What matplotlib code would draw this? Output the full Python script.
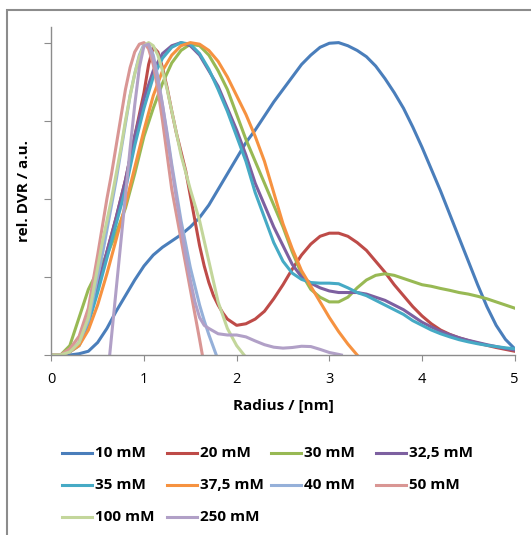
import numpy as np
import matplotlib
matplotlib.use("Agg")
import matplotlib.pyplot as plt
from matplotlib.lines import Line2D
from matplotlib.patches import Rectangle

plt.rcParams['font.family'] = ['Open Sans', 'DejaVu Sans']

# Radius grid / nm
radius = np.round(np.arange(0, 5.01, 0.1), 1)

labels = ["10 mM", "20 mM", "30 mM", "32,5 mM", "35 mM",
          "37,5 mM", "40 mM", "50 mM", "100 mM", "250 mM"]
colors = ["#4a7ebb", "#be4b48", "#98b954", "#7d60a0", "#46aac5",
          "#f69240", "#95b0d9", "#d99694", "#c3d69b", "#b1a0c7"]

dvr_10 = [0, 0, 0.0, 0.004, 0.012, 0.04, 0.085, 0.14, 0.19, 0.24,
          0.285, 0.32, 0.345, 0.365, 0.385, 0.41, 0.44, 0.48, 0.53, 0.58,
          0.63, 0.68, 0.72, 0.765, 0.81, 0.85, 0.89, 0.93, 0.96, 0.985,
          0.998, 1.0, 0.99, 0.975, 0.955, 0.925, 0.885, 0.84, 0.79, 0.73,
          0.665, 0.595, 0.525, 0.45, 0.375, 0.30, 0.225, 0.155, 0.095, 0.05, 0.02]

r_20 = [0.0, 0.1, 0.2, 0.3, 0.4, 0.5, 0.6, 0.7, 0.8, 0.85, 0.9, 0.95, 1.0,
        1.05, 1.1, 1.15, 1.2, 1.25, 1.3, 1.35, 1.4, 1.45, 1.5, 1.55, 1.6,
        1.65, 1.7, 1.75, 1.8, 1.85, 1.9] + list(radius[20:])
dvr_20 = [0, 0, 0.01, 0.04, 0.11, 0.22, 0.33, 0.44, 0.56, 0.63, 0.70, 0.77, 0.84,
          0.93, 0.985, 0.97, 0.92, 0.855, 0.78, 0.71, 0.65, 0.59, 0.51, 0.43, 0.35,
          0.285, 0.232, 0.19, 0.16, 0.135, 0.115,
          0.095, 0.10, 0.115, 0.14, 0.18, 0.225, 0.275, 0.32, 0.355, 0.38,
          0.39, 0.39, 0.38, 0.36, 0.335, 0.30, 0.265, 0.225, 0.19, 0.155,
          0.125, 0.10, 0.08, 0.066, 0.055, 0.046, 0.038, 0.031, 0.024, 0.018, 0.012]

dvr_30 = [0, 0.0, 0.03, 0.12, 0.21, 0.27, 0.32, 0.39, 0.47, 0.58,
          0.70, 0.79, 0.87, 0.935, 0.975, 0.995, 0.99, 0.96, 0.91, 0.85,
          0.77, 0.69, 0.62, 0.55, 0.48, 0.41, 0.33, 0.26, 0.21, 0.185,
          0.17, 0.17, 0.185, 0.215, 0.24, 0.255, 0.26, 0.255, 0.245, 0.235,
          0.225, 0.22, 0.213, 0.207, 0.20, 0.195, 0.188, 0.18, 0.17, 0.16, 0.15]
dvr_325 = [0, 0, 0.01, 0.04, 0.12, 0.22, 0.33, 0.44, 0.56, 0.70,
           0.82, 0.91, 0.965, 0.99, 1.0, 0.99, 0.96, 0.91, 0.86, 0.79,
           0.72, 0.64, 0.55, 0.48, 0.41, 0.35, 0.29, 0.25, 0.23, 0.215,
           0.205, 0.20, 0.20, 0.20, 0.195, 0.185, 0.175, 0.16, 0.145, 0.125,
           0.105, 0.09, 0.076, 0.065, 0.055, 0.047, 0.04, 0.033, 0.027, 0.021, 0.016]
dvr_35 = [0, 0, 0.01, 0.03, 0.10, 0.20, 0.31, 0.42, 0.53, 0.67,
          0.79, 0.89, 0.95, 0.985, 1.0, 0.995, 0.965, 0.915, 0.85, 0.78,
          0.70, 0.62, 0.52, 0.44, 0.36, 0.30, 0.262, 0.242, 0.232, 0.23,
          0.23, 0.228, 0.215, 0.20, 0.19, 0.175, 0.16, 0.145, 0.13, 0.11,
          0.095, 0.08, 0.068, 0.058, 0.049, 0.042, 0.036, 0.031, 0.027, 0.023, 0.02]
dvr_375 = [0, 0, 0.01, 0.03, 0.08, 0.16, 0.26, 0.37, 0.48, 0.60,
           0.72, 0.83, 0.91, 0.96, 0.99, 1.0, 0.995, 0.975, 0.94, 0.89,
           0.83, 0.77, 0.70, 0.62, 0.52, 0.42, 0.34, 0.27, 0.22, 0.17,
           0.12, 0.075, 0.035, 0.0]

r_40 = [0.0, 0.1, 0.2, 0.3, 0.4, 0.5, 0.55, 0.6, 0.65, 0.7, 0.75, 0.8, 0.85,
        0.9, 0.95, 1.0, 1.05, 1.1, 1.15, 1.2, 1.25, 1.3, 1.35, 1.4, 1.45,
        1.5, 1.55, 1.6, 1.65, 1.7, 1.78]
dvr_40 = [0, 0, 0.01, 0.04, 0.11, 0.25, 0.32, 0.40, 0.48, 0.56, 0.65, 0.74, 0.83,
          0.90, 0.96, 0.995, 0.995, 0.96, 0.89, 0.80, 0.71, 0.61, 0.52, 0.43, 0.355,
          0.28, 0.22, 0.16, 0.11, 0.065, 0.0]

r_50 = [0.0, 0.1, 0.2, 0.3, 0.4, 0.5, 0.55, 0.6, 0.65, 0.7, 0.75, 0.8, 0.85,
        0.9, 0.95, 1.0, 1.05, 1.1, 1.15, 1.2, 1.25, 1.3, 1.35, 1.4, 1.45,
        1.5, 1.55, 1.6, 1.63]
dvr_50 = [0, 0, 0.02, 0.06, 0.15, 0.32, 0.41, 0.50, 0.58, 0.67, 0.76, 0.85, 0.92,
          0.97, 0.995, 1.0, 0.98, 0.93, 0.85, 0.75, 0.64, 0.53, 0.45, 0.37, 0.29,
          0.21, 0.13, 0.05, 0.0]

r_100 = [0.0, 0.1, 0.2, 0.3, 0.4, 0.5, 0.55, 0.6, 0.65, 0.7, 0.75, 0.8, 0.85,
         0.9, 0.95, 1.0, 1.05, 1.1, 1.15, 1.2, 1.25, 1.3, 1.4, 1.5, 1.6,
         1.7, 1.8, 1.9, 2.0, 2.08]
dvr_100 = [0, 0, 0.01, 0.04, 0.12, 0.28, 0.36, 0.43, 0.50, 0.58, 0.66, 0.75, 0.83,
           0.90, 0.955, 0.99, 1.0, 0.99, 0.96, 0.91, 0.85, 0.78, 0.64, 0.53, 0.43,
           0.30, 0.17, 0.085, 0.03, 0.0]

r_250 = [0.63, 0.65, 0.7, 0.75, 0.8, 0.85, 0.9, 0.95, 1.0, 1.05, 1.1, 1.15,
         1.2, 1.25, 1.3, 1.35, 1.4, 1.45, 1.5, 1.55, 1.6, 1.65, 1.7] \
        + list(radius[18:32]) + [3.13]
dvr_250 = [0.0, 0.06, 0.21, 0.36, 0.51, 0.66, 0.80, 0.92, 0.99, 0.995, 0.95, 0.88,
           0.80, 0.70, 0.60, 0.50, 0.41, 0.32, 0.24, 0.17, 0.12, 0.095, 0.085,
           0.068, 0.064, 0.064, 0.058, 0.045, 0.033, 0.025, 0.022, 0.024, 0.028,
           0.027, 0.018, 0.008, 0.002, 0.0]

series = [
    (radius, dvr_10), (r_20, dvr_20), (radius, dvr_30), (radius, dvr_325),
    (radius, dvr_35), (radius[:len(dvr_375)], dvr_375), (r_40, dvr_40),
    (r_50, dvr_50), (r_100, dvr_100), (r_250, dvr_250),
]

W, H = 531, 535
fig = plt.figure(figsize=(W / 100, H / 100), dpi=100)
ax = fig.add_axes([51.3 / W, 1 - 355 / H, (514.7 - 51.3) / W, 328 / H])

for (r, v), c, lab in zip(series, colors, labels):
    ax.plot(r, v, color=c, lw=2.2, label=lab, solid_joinstyle='round')

grey = "#8c8c8c"
ax.set_xlim(0, 5)
ax.set_ylim(0, 1.05)
ax.set_xticks(range(6))
ax.set_yticks([0, 0.25, 0.5, 0.75, 1.0])
ax.set_yticklabels([])
for s in ["top", "right"]:
    ax.spines[s].set_visible(False)
for s in ["left", "bottom"]:
    ax.spines[s].set_color(grey)
    ax.spines[s].set_linewidth(1.0)
ax.tick_params(axis='x', length=4, color=grey, labelsize=10.5, pad=8)
ax.tick_params(axis='y', length=5, color=grey)

ax.set_xlabel("Radius / [nm]", fontsize=11, fontweight='bold', labelpad=9)
ax.set_ylabel("rel. DVR / a.u.", fontsize=11, fontweight='bold', labelpad=6)

# legend, drawn row by row like the original
for i, (lab, c) in enumerate(zip(labels, colors)):
    row, col = divmod(i, 4)
    x0 = 62 + col * 104.7
    y0 = 453 + row * 32
    fig.add_artist(Line2D([x0 / W, (x0 + 30) / W], [1 - y0 / H, 1 - y0 / H],
                          color=c, lw=2.2, transform=fig.transFigure))
    fig.text((x0 + 33) / W, 1 - y0 / H, lab, fontsize=11, fontweight='bold',
             va='center', ha='left')

# outer chart frame
fig.add_artist(Rectangle((7 / W, -0.1), 1.2, 1.1 - 10 / H, fill=False,
                         edgecolor=grey, lw=1.5, transform=fig.transFigure))

fig.savefig("out.png", dpi=100)
